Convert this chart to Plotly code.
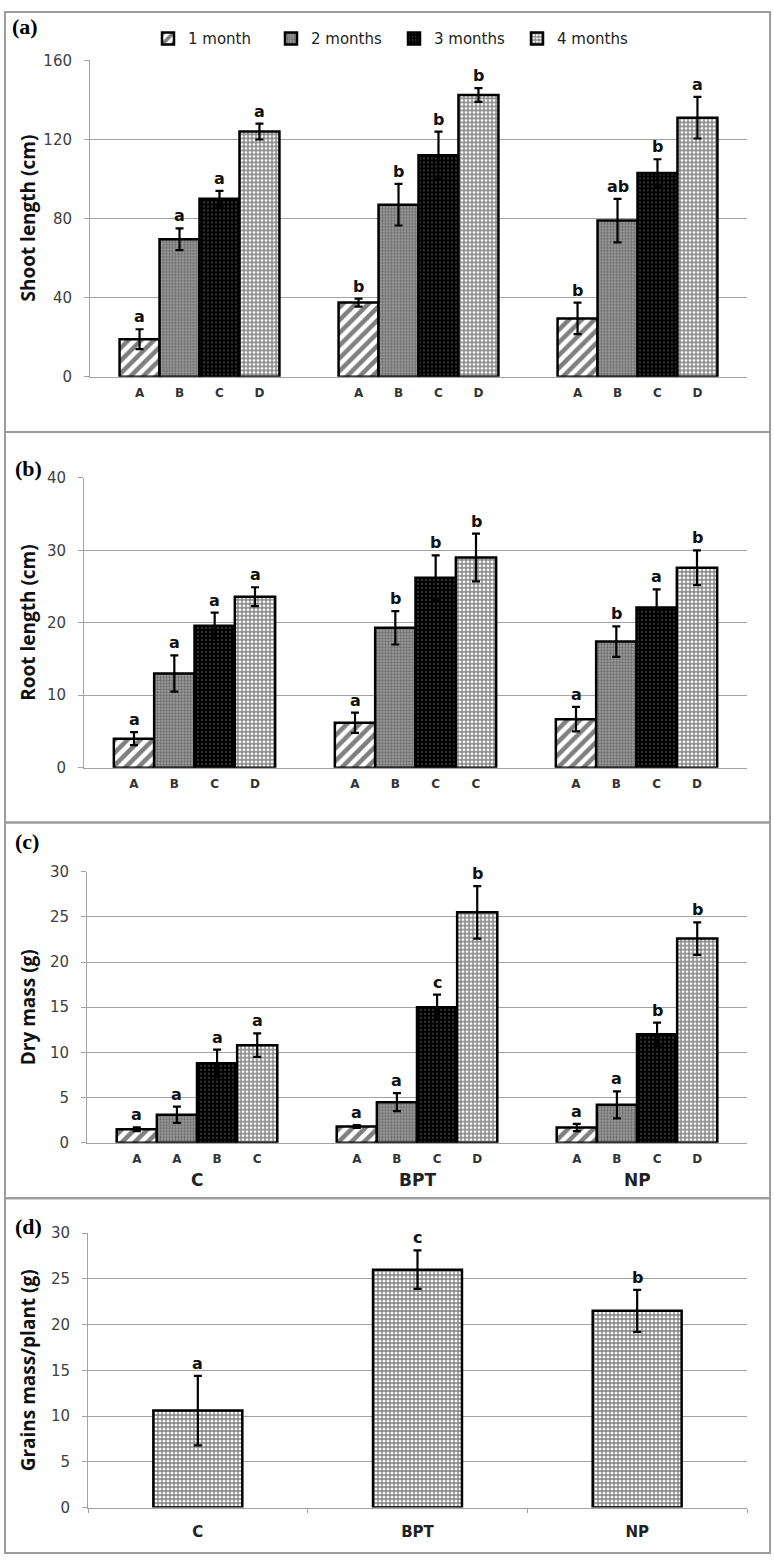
import plotly.graph_objects as go

W, H = 774, 1566

SERIES = ["1 month", "2 months", "3 months", "4 months"]
GROUPS = ["C", "BPT", "NP"]

# Panel (a) shoot length: rows = series, cols = groups
shoot_mean = [[19.0, 37.5, 29.5], [69.5, 87.0, 79.0], [90.0, 112.0, 103.0], [124.0, 142.5, 131.0]]
shoot_err = [[5.0, 2.0, 8.0], [5.5, 10.5, 11.0], [4.0, 12.0, 7.0], [4.0, 3.5, 10.5]]
shoot_sig = [["a", "b", "b"], ["a", "b", "ab"], ["a", "b", "b"], ["a", "b", "a"]]
shoot_sub = [["A", "B", "C", "D"], ["A", "B", "C", "D"], ["A", "B", "C", "D"]]

# Panel (b) root length
root_mean = [[4.0, 6.2, 6.7], [13.0, 19.3, 17.4], [19.6, 26.2, 22.1], [23.6, 29.0, 27.6]]
root_err = [[0.9, 1.4, 1.7], [2.5, 2.3, 2.1], [1.8, 3.1, 2.5], [1.3, 3.3, 2.4]]
root_sig = [["a", "a", "a"], ["a", "b", "b"], ["a", "b", "a"], ["a", "b", "b"]]
root_sub = [["A", "B", "C", "D"], ["A", "B", "C", "C"], ["A", "B", "C", "D"]]

# Panel (c) dry mass
dry_mean = [[1.5, 1.8, 1.7], [3.1, 4.5, 4.2], [8.8, 15.0, 12.0], [10.8, 25.5, 22.6]]
dry_err = [[0.2, 0.15, 0.4], [0.9, 1.0, 1.5], [1.5, 1.4, 1.3], [1.3, 2.9, 1.8]]
dry_sig = [["a", "a", "a"], ["a", "a", "a"], ["a", "c", "b"], ["a", "b", "b"]]
dry_sub = [["A", "A", "B", "C"], ["A", "B", "C", "D"], ["A", "B", "C", "D"]]

# Panel (d) grains mass per plant
grain_mean = [10.6, 26.0, 21.5]
grain_err = [3.8, 2.1, 2.3]
grain_sig = ["a", "c", "b"]

Y_TITLES = ["Shoot length (cm)", "Root length (cm)", "Dry mass (g)", "Grains mass/plant (g)"]
PANEL_LABELS = ["(a)", "(b)", "(c)", "(d)"]

BARGAP = 0.27
BW = (1 - BARGAP) / 4

PATTERNS = [
    dict(color="white", pattern=dict(shape="/", fgcolor="black", bgcolor="white", size=9, solidity=0.5)),
    dict(color="#8c8c8c", pattern=dict(shape=".", fgcolor="#303030", bgcolor="#a4a4a4", size=3, solidity=0.5)),
    dict(color="black", pattern=dict(shape=".", fgcolor="#c8c8c8", bgcolor="#000000", size=4, solidity=0.15)),
    dict(color="white", pattern=dict(shape="+", fgcolor="black", bgcolor="white", size=4, solidity=0.55)),
]

GRID = "#a3a3a3"
TICKFONT = dict(family="DejaVu Sans", size=15, color="#404040")
SUBFONT = dict(family="DejaVu Sans", size=12, color="#333333")
SIGFONT = dict(family="DejaVu Sans", size=16, color="#111111")


def py(px):
    return 1 - px / H


def px_x(px):
    return px / W


# plot-area pixel boxes: (left, right, top, bottom)
boxes = [(90, 747, 52, 372), (84, 747, 474.3, 767.5), (87, 747, 872.7, 1147), (88, 747, 1238.3, 1516)]
yranges = [(0, 160, 40), (0, 40, 10), (0, 30, 5), (0, 30, 5)]

fig = go.Figure()
panels = [
    (shoot_mean, shoot_err, shoot_sig, shoot_sub),
    (root_mean, root_err, root_sig, root_sub),
    (dry_mean, dry_err, dry_sig, dry_sub),
]

annotations = []
for p, (mean, err, sig, sub) in enumerate(panels, start=1):
    for i, name in enumerate(SERIES):
        fig.add_trace(go.Bar(
            x=list(range(len(GROUPS))), y=mean[i], name=name,
            legendgroup=name, showlegend=(p == 1), offsetgroup=str(i),
            marker=dict(color=PATTERNS[i]["color"], pattern=PATTERNS[i]["pattern"],
                        line=dict(color="black", width=2.5)),
            error_y=dict(type="data", array=err[i], color="black", thickness=2.2, width=4),
            xaxis=f"x{p}", yaxis=f"y{p}",
        ))
        for g in range(len(GROUPS)):
            annotations.append(dict(
                x=g + (i - 1.5) * BW, y=mean[i][g] + err[i][g], xref=f"x{p}", yref=f"y{p}",
                text=f"<b>{sig[i][g]}</b>", showarrow=False, yanchor="bottom", yshift=1, font=SIGFONT))

fig.add_trace(go.Bar(
    x=GROUPS, y=grain_mean, width=0.405, showlegend=False,
    marker=dict(color="white", pattern=PATTERNS[3]["pattern"], line=dict(color="black", width=2.5)),
    error_y=dict(type="data", array=grain_err, color="black", thickness=2.2, width=4),
    xaxis="x4", yaxis="y4",
))
for g, s in enumerate(grain_sig):
    annotations.append(dict(x=GROUPS[g], y=grain_mean[g] + grain_err[g], xref="x4", yref="y4",
                            text=f"<b>{s}</b>", showarrow=False, yanchor="bottom", yshift=1, font=SIGFONT))

layout = dict(
    width=W, height=H, margin=dict(l=0, r=0, t=0, b=0),
    paper_bgcolor="white", plot_bgcolor="white",
    barmode="group", bargap=BARGAP, bargroupgap=0,
    legend=dict(orientation="h", x=px_x(148), y=py(30), xanchor="left", yanchor="middle",
                font=dict(family="DejaVu Sans", size=15, color="#222222"),
                entrywidth=78, entrywidthmode="pixels", bgcolor="rgba(0,0,0,0)", traceorder="normal"),
)

for k, (l, r, t, b) in enumerate(boxes, start=1):
    y0, y1, dt = yranges[k - 1]
    layout[f"xaxis{k}"] = dict(
        domain=[px_x(l), px_x(r)], anchor=f"y{k}", showgrid=False, zeroline=False,
        showline=True, linecolor=GRID, linewidth=1, fixedrange=True,
    )
    layout[f"yaxis{k}"] = dict(
        domain=[py(b), py(t)], anchor=f"x{k}", range=[y0, y1], dtick=dt, tick0=0,
        showgrid=True, gridcolor=GRID, gridwidth=1, zeroline=False,
        showline=True, linecolor=GRID, linewidth=1, ticks="outside", ticklen=5, tickcolor=GRID,
        tickfont=TICKFONT, ticklabelstandoff=9, fixedrange=True,
    )
    if k <= 3:
        sub = panels[k - 1][3]
        tv, tt = [], []
        for g in range(len(GROUPS)):
            for j in range(4):
                tv.append(g + (j - 1.5) * BW)
                tt.append(f"<b>{sub[g][j]}</b>")
        layout[f"xaxis{k}"].update(range=[-0.5, len(GROUPS) - 0.5], tickmode="array", tickvals=tv,
                                   ticktext=tt, ticks="", tickfont=SUBFONT, ticklabelstandoff=5)
    else:
        layout[f"xaxis{k}"].update(type="category", tickson="boundaries", ticks="outside", ticklen=4,
                                   tickcolor=GRID, tickfont=dict(family="DejaVu Sans", size=15, color="#222"),
                                   ticktext=[f"<b>{g}</b>" for g in GROUPS], tickvals=GROUPS,
                                   ticklabelstandoff=10)

# group labels under panel (c)
for g, name in enumerate(GROUPS):
    annotations.append(dict(x=g, y=py(1185), xref="x3", yref="paper", text=f"<b>{name}</b>",
                            showarrow=False, yanchor="middle",
                            font=dict(family="DejaVu Sans", size=17, color="#222")))

# y titles
for k, (l, r, t, b) in enumerate(boxes):
    annotations.append(dict(x=px_x(28), y=py((t + b) / 2), xref="paper", yref="paper",
                            text=f"<b>{Y_TITLES[k]}</b>", textangle=-90, showarrow=False,
                            xanchor="center", yanchor="middle",
                            font=dict(family="Open Sans", size=19, color="#111")))

# panel labels
label_pos = [(10, 18), (13, 465), (13, 842), (13, 1232)]
for k, (lx, ly) in enumerate(label_pos):
    annotations.append(dict(x=px_x(lx), y=py(ly), xref="paper", yref="paper",
                            text=f"<b>{PANEL_LABELS[k]}</b>", showarrow=False,
                            xanchor="left", yanchor="middle",
                            font=dict(family="Liberation Serif", size=22, color="black")))

# panel frames
frames = [(3, 428), (428, 823), (823, 1203), (1203, 1562)]
shapes = []
for (t, b) in frames:
    shapes.append(dict(type="rect", xref="paper", yref="paper", x0=px_x(5), x1=px_x(770),
                       y0=py(b), y1=py(t), line=dict(color="#9c9c9c", width=2)))

layout["annotations"] = annotations
layout["shapes"] = shapes
fig.update_layout(**layout)

fig.write_html("out.html", config={"displayModeBar": False},
               post_script="document.body.style.margin='0';")
